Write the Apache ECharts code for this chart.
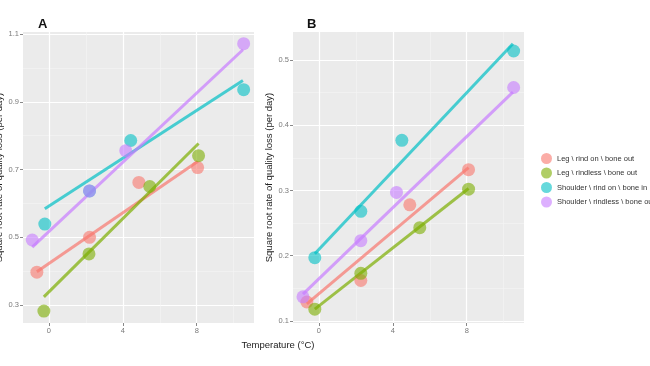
<!DOCTYPE html>
<html>
<head>
<meta charset="utf-8">
<script src="https://cdn.jsdelivr.net/npm/echarts@6/dist/echarts.min.js"></script>
<style>html,body{margin:0;padding:0;background:#fff}#c{width:650px;height:366px}</style>
</head>
<body>
<div id="c"></div>
<script>
const groups = ['Leg \\ rind on \\ bone out', 'Leg \\ rindless \\ bone out', 'Shoulder \\ rind on \\ bone in', 'Shoulder \\ rindless \\ bone out'];
const colors = ['#F8766D', '#7CAE00', '#00BFC4', '#C77CFF'];

// Panel A points (temperature, value)
const aX = [[-0.65, 2.2, 4.87, 8.05], [-0.27, 2.17, 5.46, 8.1], [-0.22, 2.2, 4.43, 10.54], [-0.9, 2.2, 4.16, 10.54]];
const aY = [[0.397, 0.500, 0.662, 0.706], [0.282, 0.451, 0.650, 0.741], [0.539, 0.637, 0.786, 0.936], [0.492, 0.637, 0.756, 1.072]];
// Panel A fitted line endpoints
const aLineX = [[-0.65, 8.05], [-0.27, 8.1], [-0.22, 10.5], [-0.9, 10.5]];
const aLineY = [[0.398, 0.724], [0.324, 0.777], [0.584, 0.963], [0.471, 1.054]];

// Panel B points
const bX = [[-0.65, 2.27, 4.92, 8.1], [-0.22, 2.27, 5.46, 8.1], [-0.22, 2.27, 4.49, 10.54], [-0.86, 2.27, 4.2, 10.54]];
const bY = [[0.129, 0.162, 0.278, 0.332], [0.118, 0.173, 0.243, 0.302], [0.197, 0.268, 0.377, 0.514], [0.137, 0.223, 0.297, 0.458]];
const bLineX = [[-0.65, 8.1], [-0.22, 8.1], [-0.22, 10.5], [-0.86, 10.5]];
const bLineY = [[0.126, 0.335], [0.118, 0.303], [0.203, 0.525], [0.141, 0.451]];

const xTicks = [0, 4, 8];
const xMinor = [2, 6, 10];
const aYTicks = [0.3, 0.5, 0.7, 0.9, 1.1];
const aYMinor = [0.4, 0.6, 0.8, 1.0];
const bYTicks = [0.1, 0.2, 0.3, 0.4, 0.5];
const bYMinor = [0.15, 0.25, 0.35, 0.45];

const zip = (xs, ys) => xs.map((x, i) => [x, ys[i]]);
const font = 'Liberation Sans, Arial, sans-serif';
const tickLabel = {fontSize: 7.5, color: '#7a7a7a', fontFamily: font};

function majorX(grid) {
  return {type: 'value', gridIndex: grid, min: -1.4, max: 11.1,
    axisLine: {show: false, onZero: false},
    axisTick: {show: true, length: 3, lineStyle: {color: '#888'}, customValues: xTicks},
    axisLabel: Object.assign({customValues: xTicks, margin: 4}, tickLabel),
    splitLine: {show: true, lineStyle: {color: '#ffffff', width: 1.2}}};
}
function minorX(grid) {
  return {type: 'value', gridIndex: grid, min: -1.4, max: 11.1,
    axisLine: {show: false, onZero: false},
    axisTick: {show: false, customValues: xMinor},
    axisLabel: {show: false},
    splitLine: {show: true, lineStyle: {color: '#f5f5f5', width: 0.6}}};
}
function majorY(grid, mn, mx, ticks, name, gap) {
  return {type: 'value', gridIndex: grid, min: mn, max: mx, position: 'left',
    axisLine: {show: false, onZero: false},
    axisTick: {show: true, length: 3, lineStyle: {color: '#888'}, customValues: ticks},
    axisLabel: Object.assign({customValues: ticks, margin: 4, formatter: v => v.toFixed(1)}, tickLabel),
    splitLine: {show: true, lineStyle: {color: '#ffffff', width: 1.2}},
    name: name, nameLocation: 'middle', nameGap: gap,
    nameTextStyle: {fontSize: 9.5, color: '#222', fontFamily: font}};
}
function minorY(grid, mn, mx, ticks) {
  return {type: 'value', gridIndex: grid, min: mn, max: mx, position: 'left',
    axisLine: {show: false, onZero: false},
    axisTick: {show: false, customValues: ticks},
    axisLabel: {show: false},
    splitLine: {show: true, lineStyle: {color: '#f5f5f5', width: 0.6}}};
}

const series = [];
function addPanel(xAxisIndex, yAxisIndex, px, py, lx, ly) {
  for (let i = 0; i < groups.length; i++) {
    series.push({name: 'fit' + xAxisIndex + '_' + i, type: 'line', xAxisIndex, yAxisIndex,
      data: zip(lx[i], ly[i]), symbol: 'none', silent: true,
      lineStyle: {color: colors[i], width: 3, opacity: 0.7}, z: 3});
  }
  for (let i = 0; i < groups.length; i++) {
    series.push({name: groups[i], type: 'scatter', xAxisIndex, yAxisIndex,
      data: zip(px[i], py[i]), symbolSize: 13,
      itemStyle: {color: colors[i], opacity: 0.6}, z: 4});
  }
}
addPanel(0, 0, aX, aY, aLineX, aLineY);
addPanel(1, 2, bX, bY, bLineX, bLineY);

const chart = echarts.init(document.getElementById('c'), null, {renderer: 'canvas'});
chart.setOption({
  animation: false,
  backgroundColor: '#ffffff',
  title: [
    {text: 'A', left: 33, top: 13, textStyle: {fontSize: 13, fontWeight: 'bold', color: '#111', fontFamily: font}},
    {text: 'B', left: 302, top: 13, textStyle: {fontSize: 13, fontWeight: 'bold', color: '#111', fontFamily: font}},
    {text: 'Temperature (°C)', left: 273, top: 335, textAlign: 'center', textStyle: {fontSize: 9.5, fontWeight: 'normal', color: '#222', fontFamily: font}}
  ],
  grid: [
    {left: 23, top: 32, width: 231, height: 291, show: true, backgroundColor: '#ebebeb', borderWidth: 0, containLabel: false, outerBoundsMode: 'none'},
    {left: 293, top: 32, width: 231, height: 291, show: true, backgroundColor: '#ebebeb', borderWidth: 0, containLabel: false, outerBoundsMode: 'none'}
  ],
  xAxis: [majorX(0), majorX(1), minorX(0), minorX(1)],
  yAxis: [
    majorY(0, 0.2468, 1.1065, aYTicks, 'Square root rate of quality loss (per day)', 18),
    minorY(0, 0.2468, 1.1065, aYMinor),
    majorY(1, 0.0968, 0.5431, bYTicks, 'Square root rate of quality loss (per day)', 18),
    minorY(1, 0.0968, 0.5431, bYMinor)
  ],
  legend: {
    data: groups.map(g => ({name: g, icon: 'circle'})),
    orient: 'vertical', left: 536, top: 148, itemGap: 3.5, itemWidth: 11, itemHeight: 11,
    textStyle: {fontSize: 7.5, color: '#333', fontFamily: font}
  },
  series: series
});
</script>
</body>
</html>
